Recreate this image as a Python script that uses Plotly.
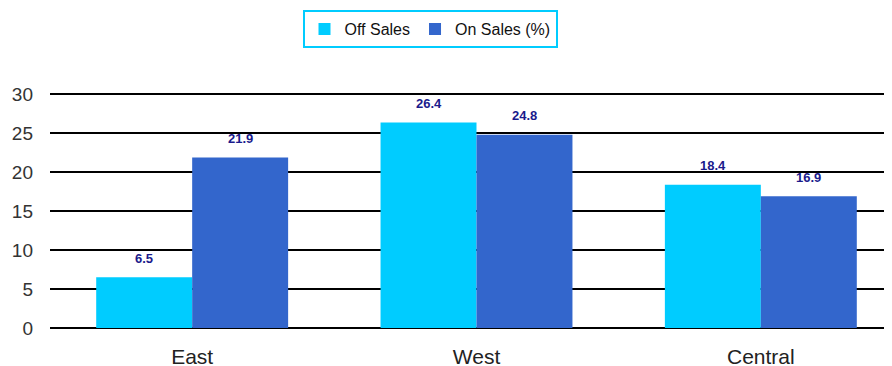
import plotly.graph_objects as go

categories = ["East", "West", "Central"]
off_sales = [6.5, 26.4, 18.4]
on_sales = [21.9, 24.8, 16.9]
series_names = ["Off Sales", "On Sales (%)"]
y_ticks = [0, 5, 10, 15, 20, 25, 30]

colors = ["#00CCFF", "#3366CC"]

fig = go.Figure()
for name, vals, col in zip(series_names, [off_sales, on_sales], colors):
    fig.add_trace(go.Bar(x=categories, y=vals, name=name, marker=dict(color=col, line=dict(width=0))))

annotations = []
for vals, shift in [(off_sales, -48), (on_sales, 48)]:
    for c, v in zip(categories, vals):
        annotations.append(dict(x=c, y=v, xref="x", yref="y", text=f"{v:.1f}", showarrow=False,
                                xshift=shift, yshift=19,
                                font=dict(family="Arial", size=13, color="#1a1a8c", weight="bold")))

fig.update_layout(
    width=895, height=358,
    margin=dict(l=42, r=0, t=84, b=38),
    paper_bgcolor="white", plot_bgcolor="white",
    barmode="group", bargap=0.325, bargroupgap=0,
    font=dict(family="Arial", color="#222222"),
    legend=dict(orientation="h", x=422 / 895, xanchor="center", y=0.994, yanchor="top",
                yref="container", xref="container", bordercolor="#00CCFF", borderwidth=2,
                font=dict(size=16, color="#111111"), bgcolor="white",
                itemwidth=30, tracegroupgap=0),
    xaxis=dict(showgrid=False, showline=False, ticks="", automargin=False,
               tickfont=dict(size=21, color="#222222"), ticklabelstandoff=14),
    yaxis=dict(range=[0, 30.3], tickvals=y_ticks, showgrid=True, gridcolor="black", gridwidth=2,
               zeroline=True, zerolinecolor="black", zerolinewidth=2, automargin=False,
               tickfont=dict(size=19, color="#333333"), ticklabelstandoff=16),
    annotations=annotations,
)
fig.write_html("out.html")
